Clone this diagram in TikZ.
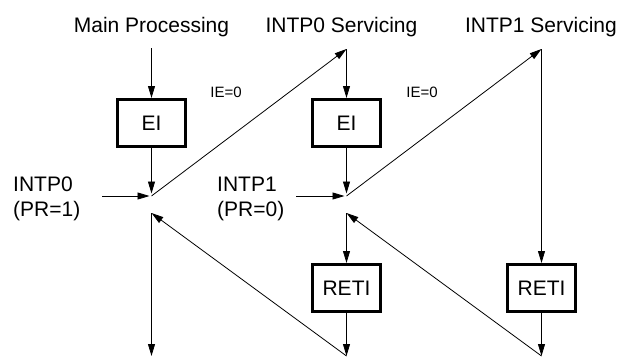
\documentclass[tikz,border=0pt]{standalone}
\usepackage{fontspec}
\setmainfont{Liberation Sans}
\usetikzlibrary{arrows.meta}
\begin{document}
\begin{tikzpicture}[x=1pt,y=-1pt,
  line/.style={line width=0.8pt},
  arr/.style={line width=0.8pt,-{Triangle[length=12pt,width=7pt]}},
  box/.style={draw,line width=2.8pt,minimum width=68.2pt,minimum height=47.2pt,inner sep=0pt,font=\fontsize{21}{25}\selectfont},
  title/.style={anchor=base,inner sep=0pt,font=\fontsize{21}{25}\selectfont},
  small/.style={inner sep=0pt,font=\fontsize{15}{18}\selectfont},
  lbl/.style={anchor=north west,inner sep=0pt,align=left,font=\fontsize{21}{25}\selectfont}]
\useasboundingbox (0,0) rectangle (618,356);
% titles
\node[title] (tmain) at (151.5,32) {Main Processing};
\node[title] (tint0) at (341.5,32) {INTP0 Servicing};
\node[title] (tint1) at (541,32) {INTP1 Servicing};
% boxes
\node[box] (ei0) at (151.5,123) {EI};
\node[box] (ei1) at (346.5,123) {EI};
\node[box] (reti1) at (346.5,288) {RETI};
\node[box] (reti2) at (541.5,288) {RETI};
% labels
\node[small] (ie0) at (226,92) {IE=0};
\node[small] (ie1) at (422,92) {IE=0};
\node[lbl] (lint0) at (13,177) {INTP0\\(PR=1)};
\node[lbl] (lint1) at (217,177) {INTP1\\(PR=0)};
% coordinates
\coordinate (t0) at (151.5,48);
\coordinate (t1) at (346.5,49);
\coordinate (t2) at (541.5,49);
\coordinate (j0a) at (151.5,196);
\coordinate (j0b) at (151.5,213);
\coordinate (j1a) at (346.5,196);
\coordinate (j1b) at (346.5,213);
\coordinate (i0) at (102,196);
\coordinate (i1) at (296,196);
\coordinate (b0) at (151.5,356);
\coordinate (b1) at (346.5,356);
\coordinate (b2) at (541.5,356);
% column 0
\draw[arr] (t0) -- (ei0.north);
\draw[arr,shorten >=2.5pt] (ei0.south) -- (j0a);
\draw[arr,shorten >=2pt] (i0) -- (j0a);
\draw[arr] (j0a) -- (t1);
\draw[arr] (j0b) -- (b0);
% column 1
\draw[arr] (t1) -- (ei1.north);
\draw[arr,shorten >=2.5pt] (ei1.south) -- (j1a);
\draw[arr,shorten >=2pt] (i1) -- (j1a);
\draw[arr] (j1a) -- (t2);
\draw[arr] (j1b) -- (reti1.north);
\draw[arr] (reti1.south) -- (b1);
\draw[arr] (b1) -- (j0b);
% column 2
\draw[arr] (t2) -- (reti2.north);
\draw[arr] (reti2.south) -- (b2);
\draw[arr] (b2) -- (j1b);
\end{tikzpicture}
\end{document}
